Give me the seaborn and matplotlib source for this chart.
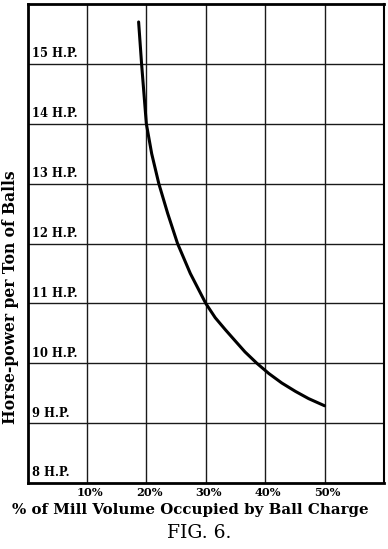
import matplotlib
matplotlib.use("Agg")
import matplotlib.pyplot as plt
import matplotlib.transforms as mtransforms
import seaborn as sns
import pandas as pd

# ---- data ----
ball_charge_pct = [18.7, 19.2, 19.6, 20.0, 20.9, 22.1, 23.6, 25.25, 27.4, 30.0,
                   31.6, 33.3, 34.9, 36.6, 38.6, 40.6, 42.8, 45.1, 47.3, 50.0]
hp_per_ton = [15.7, 15.0, 14.5, 14.0, 13.5, 13.0, 12.5, 12.0, 11.5, 11.0,
              10.76, 10.56, 10.38, 10.19, 10.0, 9.83, 9.67, 9.53, 9.41, 9.29]

x_ticks = [10, 20, 30, 40, 50]
x_tick_labels = ["10%", "20%", "30%", "40%", "50%"]
y_levels = [8, 9, 10, 11, 12, 13, 14, 15]
y_labels = ["8 H.P.", "9 H.P.", "10 H.P.", "11 H.P.", "12 H.P.", "13 H.P.", "14 H.P.", "15 H.P."]

sns.set_theme(style="white")
plt.rcParams["font.family"] = ["DejaVu Serif"]
plt.rcParams["text.color"] = "black"
plt.rcParams["xtick.color"] = "black"

fig = plt.figure(figsize=(3.88, 5.49), dpi=100)
ax = fig.add_axes([0.0709, 0.1202, 0.9188, 0.8725])

df = pd.DataFrame({"pct": ball_charge_pct, "hp": hp_per_ton})
sns.lineplot(data=df, x="pct", y="hp", ax=ax, color="black", linewidth=2.2, sort=False)

ax.set_xlim(0, 60)
ax.set_ylim(8, 16)
ax.set_xticks(x_ticks)
ax.set_xticklabels(x_tick_labels, fontsize=8.2, fontweight="bold", color="black")
ax.set_yticks(y_levels[1:])
ax.set_yticklabels([])
ax.tick_params(axis="both", length=0)
ax.tick_params(axis="x", pad=3)
shift = mtransforms.ScaledTranslation(3 / 100, 0, fig.dpi_scale_trans)
for lbl in ax.get_xticklabels():
    lbl.set_transform(lbl.get_transform() + shift)
ax.grid(True, color="#1a1a1a", linewidth=1.0)
ax.set_xlabel("")
ax.set_ylabel("")

for lv, lb in zip(y_levels, y_labels):
    ax.text(0.75, lv + 0.06, lb, fontsize=8.3, fontweight="bold", ha="left", va="bottom", color="black")

for side, lw in (("left", 2.0), ("bottom", 2.0), ("top", 2.0), ("right", 1.5)):
    ax.spines[side].set_visible(True)
    ax.spines[side].set_color("black")
    ax.spines[side].set_linewidth(lw)

fig.text(0.49, 0.071, "% of Mill Volume Occupied by Ball Charge", ha="center", va="center",
         fontsize=10.8, fontweight="bold")
fig.text(0.026, 0.459, "Horse-power per Ton of Balls", rotation=90, ha="center", va="center",
         fontsize=11.2, fontweight="bold")
fig.text(0.513, 0.029, "FIG. 6.", ha="center", va="center", fontsize=13.5)

fig.savefig("out.png", dpi=100)
